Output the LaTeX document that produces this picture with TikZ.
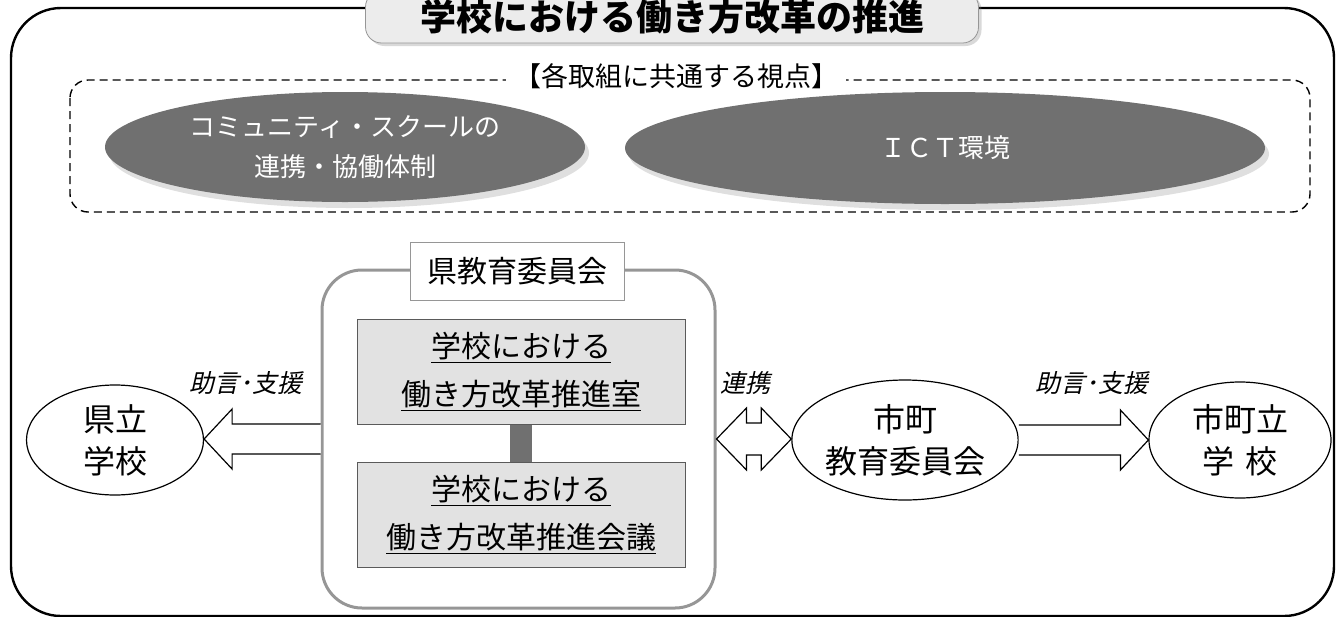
\documentclass[tikz,border=0pt]{standalone}
\usepackage{fontspec}
\setmainfont{Noto Sans CJK JP}
\newfontfamily\slantfont[FakeSlant=0.22]{Noto Sans CJK JP}
\usetikzlibrary{shapes.geometric, positioning, calc, shadows}
\definecolor{PlanGray}{RGB}{112,112,112}
\definecolor{PlanFill}{RGB}{226,226,226}
\definecolor{PlanTitle}{RGB}{236,236,236}
\definecolor{PlanEdge}{RGB}{150,150,150}

\tikzset{
  viewell/.style={ellipse, fill=PlanGray, text=white, align=center,
    font=\fontsize{13}{20}\selectfont,
    drop shadow={shadow xshift=2pt, shadow yshift=-3pt, opacity=0.25, fill=gray}},
  orgell/.style={ellipse, draw, line width=0.6pt, inner sep=0pt, align=center,
    font=\fontsize{16}{21}\selectfont},
  unitbox/.style={rectangle, draw=PlanEdge!60!black, fill=PlanFill, minimum width=164pt,
    minimum height=52.5pt, align=center, font=\fontsize{15}{24}\selectfont},
  hollow/.style={draw, line width=0.6pt, fill=white, line join=miter},
  actlabel/.style={font=\slantfont\fontsize{12.5}{15}\selectfont},
}

% hollow block arrows, shaft from #1, tip on #2
\newcommand{\hollowarrow}[2]{%
  \draw[hollow] let \p1=(#1), \p2=(#2), \p3=($(#2)!14pt!(#1)$) in
    (\x1,{\y1+7.5pt}) -- (\x3,{\y1+7.5pt}) -- (\x3,{\y1+15pt}) -- (\x2,\y1)
    -- (\x3,{\y1-15pt}) -- (\x3,{\y1-7.5pt}) -- (\x1,{\y1-7.5pt});}
\newcommand{\hollowdouble}[2]{%
  \draw[hollow] let \p1=(#1), \p2=(#2), \p3=($(#1)!15pt!(#2)$), \p4=($(#2)!15pt!(#1)$) in
    (\x1,\y1) -- (\x3,{\y1+15.5pt}) -- (\x3,{\y1+8pt}) -- (\x4,{\y1+8pt})
    -- (\x4,{\y1+15.5pt}) -- (\x2,\y1) -- (\x4,{\y1-15.5pt}) -- (\x4,{\y1-8pt})
    -- (\x3,{\y1-8pt}) -- (\x3,{\y1-15.5pt}) -- cycle;}

\begin{document}
\begin{tikzpicture}[x=0.5pt,y=-0.5pt]
  \useasboundingbox (0,0) rectangle (1338,616);
  \clip (0,0) rectangle (1338,616);

  % outer frame and title
  \draw[line width=1.2pt, rounded corners=25pt] (11,8) rectangle (1334,616);
  \node[draw=PlanEdge, fill=PlanTitle, rounded corners=8pt, minimum width=306.5pt,
    minimum height=26pt, font=\fontsize{18}{20}\selectfont\bfseries,
    drop shadow={shadow xshift=1.5pt, shadow yshift=-1.5pt, opacity=0.3}]
    (title) at (672,17) {学校における働き方改革の推進};

  % common viewpoints
  \draw[line width=0.7pt, dash pattern=on 4pt off 2.5pt, rounded corners=9pt]
    (70,80) rectangle (1310,212);
  \node[fill=white, inner xsep=4pt, font=\fontsize{13.5}{15}\selectfont] (viewpoint) at (676,76)
    {【各取組に共通する視点】};
  \node[viewell, minimum width=240pt, minimum height=55pt] (community) at (345,147)
    {コミュニティ・スクールの\\連携・協働体制};
  \node[viewell, minimum width=320pt, minimum height=56pt] (ict) at (945,148) {ＩＣＴ環境};

  % prefectural board
  \node[draw=PlanEdge, line width=1.5pt, rounded corners=20pt, minimum width=196.5pt,
    minimum height=169pt] (prefbox) at (518.5,439) {};
  \node[draw=PlanEdge, fill=white, minimum width=107pt, minimum height=29pt,
    font=\fontsize{15}{17}\selectfont] (prefboard) at (517,271) {県教育委員会};
  \node[unitbox] (office) at (521,372) {\underline{学校における}\\\underline{働き方改革推進室}};
  \node[unitbox] (council) at (521,515) {\underline{学校における}\\\underline{働き方改革推進会議}};
  \draw[PlanGray, line width=11pt] (office) -- (council);

  % schools and municipal board
  \node[orgell, minimum width=88.5pt, minimum height=55pt] (prefschool) at (115,440) {県立\\学校};
  \node[orgell, minimum width=105pt, minimum height=60pt] (cityboard) at (905,440) {市町\\教育委員会};
  \node[orgell, minimum width=91pt, minimum height=58pt] (cityschool) at (1240,440) {市町立\\学\,\,校};

  \hollowarrow{prefbox.west}{prefschool.east}
  \hollowdouble{prefbox.east}{cityboard.west}
  \hollowarrow{cityboard.east}{cityschool.west}

  \node[actlabel] (supportl) at (246,383) {助言･支援};
  \node[actlabel] (liaison) at (745,383) {連携};
  \node[actlabel] (supportr) at (1092,383) {助言･支援};
\end{tikzpicture}
\end{document}
